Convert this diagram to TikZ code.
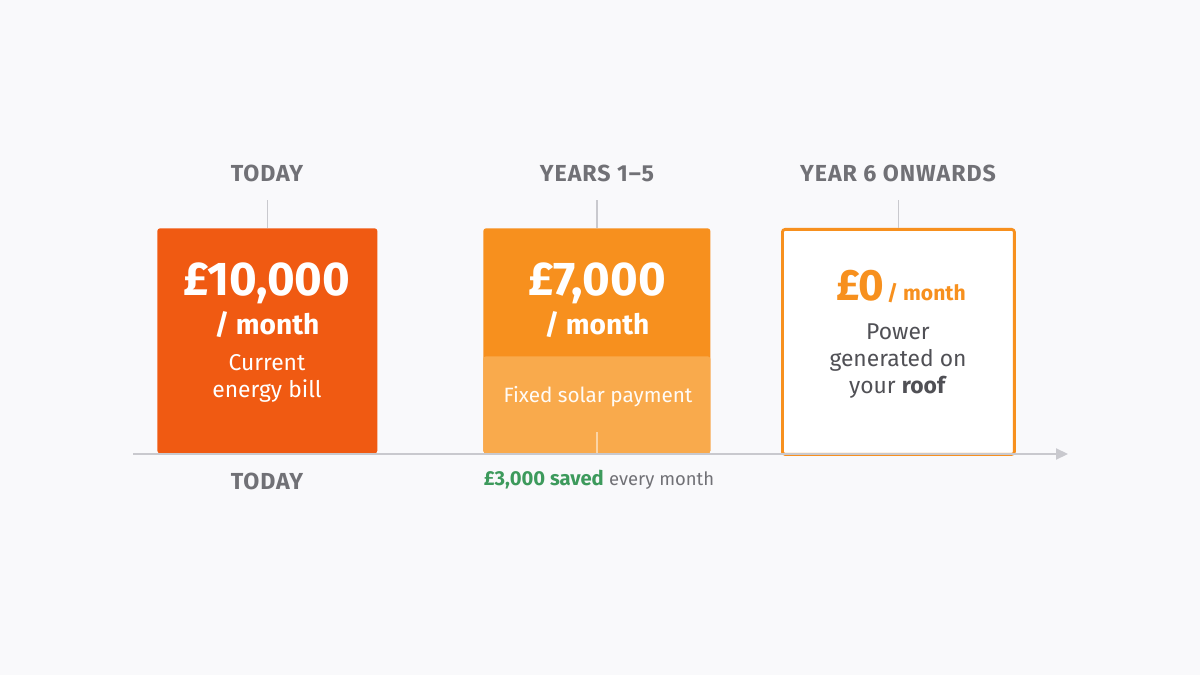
\documentclass[tikz,border=0pt]{standalone}
\usepackage{fontspec}
\setmainfont{Fira Sans}
\newfontfamily\spacedfont[LetterSpace=4]{Fira Sans}
\usetikzlibrary{arrows.meta,positioning}
\definecolor{billred}{HTML}{F05A12}
\definecolor{solarorange}{HTML}{F7901E}
\definecolor{paylight}{HTML}{F9AA4C}
\definecolor{labelgrey}{HTML}{717176}
\definecolor{textgrey}{HTML}{505055}
\definecolor{axisgrey}{HTML}{C9C9CE}
\definecolor{savegreen}{HTML}{3D9A5C}
\definecolor{pagebg}{HTML}{F9F9FB}

\begin{document}
\begin{tikzpicture}[x=0.02cm, y=-0.02cm,
  period/.style={font=\spacedfont\bfseries\fontsize{13.2}{15}\selectfont, text=labelgrey},
  box/.style={rounded corners=1.5pt, anchor=north west, minimum height=4.5cm,
              inner sep=0pt},
  amount/.style={font=\bfseries\fontsize{27}{30}\selectfont, text=white},
  permonth/.style={font=\bfseries\fontsize{16}{18}\selectfont, text=white},
  note/.style={align=center, font=\fontsize{13}{15.3}\selectfont},
  tick/.style={draw=axisgrey, line width=0.9pt},
  axis/.style={draw=axisgrey, line width=1.2pt, -{Triangle[length=2.4mm,width=2.2mm]}}
]
% page
\fill[pagebg] (0,0) rectangle (1200,675);

% boxes
\node[box, fill=billred, minimum width=4.4cm] (today) at (157,228) {};
\node[box, fill=solarorange, minimum width=4.54cm] (years) at (483,228) {};
\node[box, fill=paylight, minimum height=1.94cm, minimum width=4.54cm] (fixed) at (483,356) {};
\node[box, draw=solarorange, line width=1.6pt, fill=white, minimum width=4.64cm] (onwards) at (781,228) {};

% period labels
\node[period] (lbtoday) at (267,173) {TODAY};
\node[period] (lbyears) at (597,173) {YEARS 1–5};
\node[period] (lbonwards) at (898,173) {YEAR 6 ONWARDS};

\draw[tick] (today.north) -- ++(0,-28);
\draw[tick] (years.north) -- ++(0,-28);
\draw[tick] (onwards.north) -- ++(0,-28);
\draw[tick, draw=white, opacity=0.5] (fixed.south) -- ++(0,-22);

% time axis
\coordinate (axisstart) at (133,454);
\coordinate (axisend) at (1068,454);
\draw[axis] (axisstart) -- (axisend);

% today
\node[amount] (billamt) at (267,283) {£10,000};
\node[permonth] (billpm) at (267,325) {/ month};
\node[note, text=white] (billnote) at (267,378) {Current\\energy bill};
\node[period] (lbbottom) at (267,481) {TODAY};

% years 1-5
\node[amount] (solaramt) at (597,283) {£7,000};
\node[permonth] (solarpm) at (597,325) {/ month};
\node[font=\fontsize{11.8}{13}\selectfont, text=white!95!paylight] (fixednote) at (598,397) {Fixed solar payment};
\node[font=\fontsize{11.5}{13}\selectfont] (saved) at (599,480)
  {\textcolor{savegreen}{\bfseries £3,000 saved} {\color{labelgrey}\fontsize{10.5}{12}\selectfont every month}};

% year 6 onwards
\node[text=solarorange, font=\bfseries] (zeroamt) at (901,287)
  {{\fontsize{25}{28}\selectfont £0}\,{\fontsize{12}{14}\selectfont / month}};
\node[note, text=textgrey] (roofnote) at (898,361) {Power\\generated on\\your \textbf{roof}};
\end{tikzpicture}
\end{document}
